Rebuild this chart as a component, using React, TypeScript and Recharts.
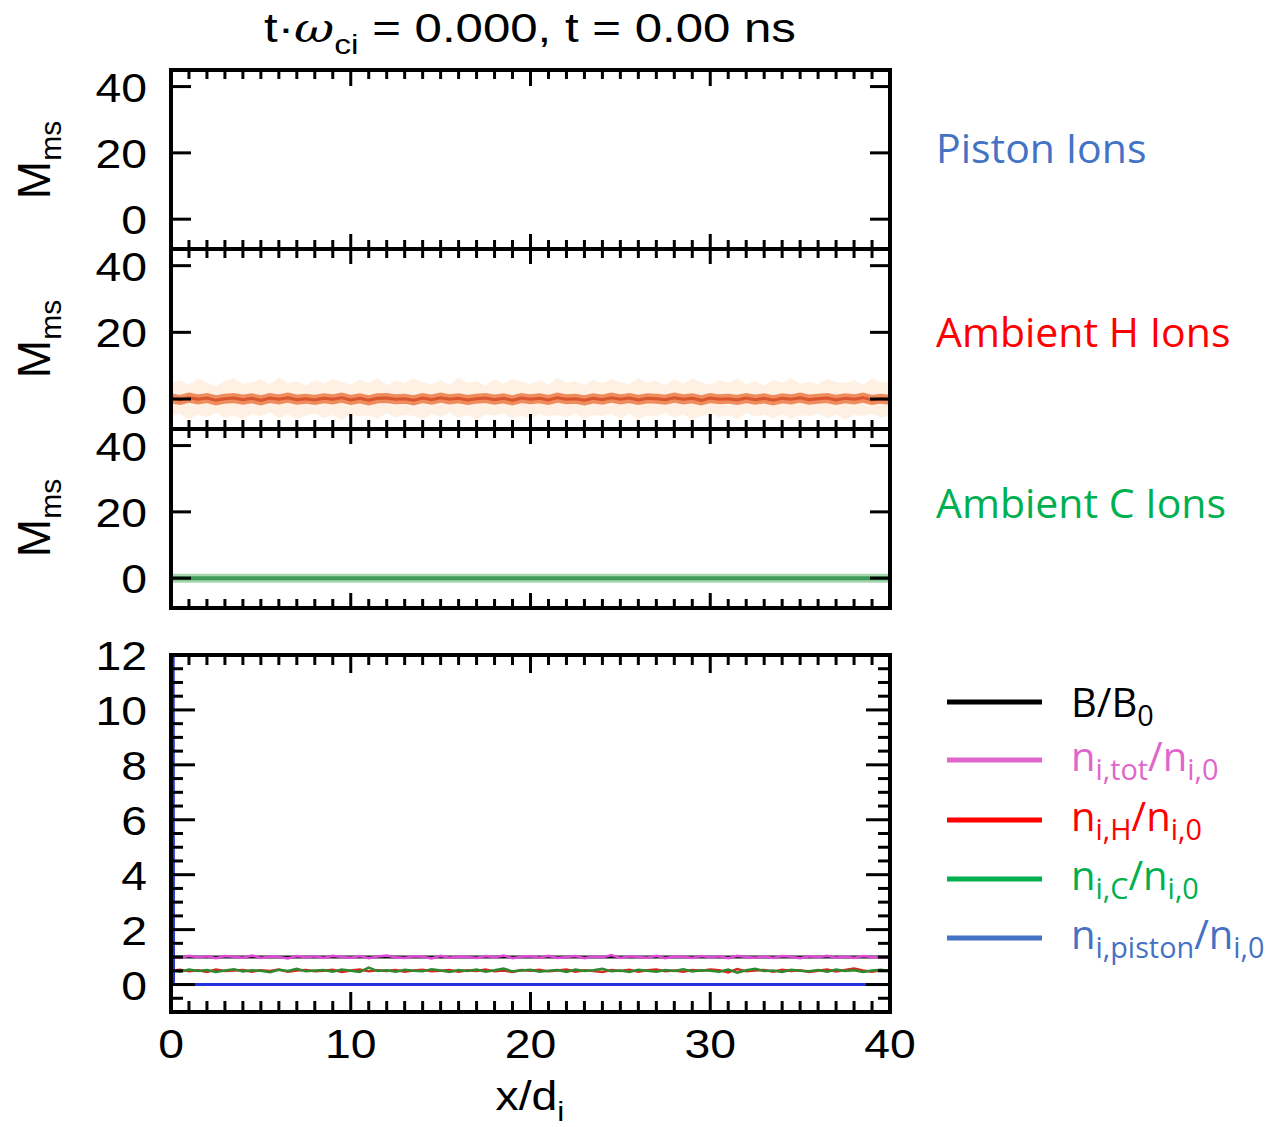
import React from 'react';
import { ComposedChart, Line, Area, XAxis, YAxis } from 'recharts';

// ---------- data ----------
const xTicks = [0,1,2,3,4,5,6,7,8,9,10,11,12,13,14,15,16,17,18,19,20,21,22,23,24,25,26,27,28,29,30,31,32,33,34,35,36,37,38,39,40];
const xMajorTicks = [0,10,20,30,40];
const machTicks = [0,20,40];
const densTicks = [-0.5,0,0.5,1,1.5,2,2.5,3,3.5,4,4.5,5,5.5,6,6.5,7,7.5,8,8.5,9,9.5,10,10.5,11,11.5,12];
const densMajor = [0,2,4,6,8,10,12];

const xGrid = [
  0,0.5,1,1.5,2,2.5,3,3.5,4,4.5,
  5,5.5,6,6.5,7,7.5,8,8.5,9,9.5,
  10,10.5,11,11.5,12,12.5,13,13.5,14,14.5,
  15,15.5,16,16.5,17,17.5,18,18.5,19,19.5,
  20,20.5,21,21.5,22,22.5,23,23.5,24,24.5,
  25,25.5,26,26.5,27,27.5,28,28.5,29,29.5,
  30,30.5,31,31.5,32,32.5,33,33.5,34,34.5,
  35,35.5,36,36.5,37,37.5,38,38.5,39,39.5,
  40,
];

// Ambient H ions Mach number (core + spread)
const hCore = [
  0.2,-0.3,0.4,-0.1,0.3,-0.4,0.1,0.3,-0.2,0.2,
  -0.4,0.3,-0.1,0.4,-0.2,0.1,-0.3,0.2,-0.1,0.4,
  -0.3,0.2,-0.4,0.2,0.3,-0.1,0.1,-0.4,0.3,-0.2,
  0.4,-0.1,0.2,-0.3,0.1,0.3,-0.2,0.2,-0.4,0.3,
  -0.1,0.2,-0.3,0.4,-0.1,0.1,-0.4,0.2,-0.2,0.4,
  -0.1,0.3,-0.3,0.2,0.1,-0.2,0.4,-0.1,0.2,-0.4,
  0.3,-0.1,0.1,-0.3,0.3,-0.2,0.2,-0.4,0.2,-0.1,
  0.4,-0.2,0.1,0.3,-0.3,0.2,-0.1,0.4,-0.3,0.1,
  -0.2,
];
const hHigh = [
  4.8,5.6,4.2,6.1,4.9,3.8,5.4,6.3,4.5,5.0,
  5.9,4.4,6.6,4.7,5.3,3.9,5.7,4.6,6.0,5.1,
  4.3,5.8,4.9,6.4,4.1,5.5,4.8,6.2,5.0,4.4,
  5.6,4.2,6.5,4.9,5.3,4.0,5.9,4.6,6.1,5.2,
  4.5,5.7,4.3,6.3,4.8,5.4,4.1,5.8,4.7,6.0,
  5.1,4.4,6.4,4.9,5.5,4.2,5.9,4.6,6.2,5.0,
  4.3,5.6,4.8,6.1,4.5,5.3,4.0,5.8,4.9,6.3,
  4.6,5.2,4.4,6.0,5.1,4.7,5.7,4.2,6.2,4.9,
  5.3,
];
const hLow = [
  -5.1,-4.4,-6.0,-4.7,-5.5,-4.1,-5.8,-4.9,-6.3,-4.5,
  -5.2,-4.0,-5.9,-4.6,-6.1,-5.0,-4.3,-5.7,-4.8,-6.4,
  -4.4,-5.3,-4.9,-6.0,-4.2,-5.6,-4.7,-5.1,-6.2,-4.5,
  -5.4,-4.1,-5.8,-4.8,-6.3,-4.6,-5.0,-4.3,-5.9,-4.9,
  -6.1,-4.4,-5.3,-4.7,-5.7,-4.2,-6.0,-4.8,-5.2,-4.5,
  -5.9,-4.3,-6.2,-4.9,-5.4,-4.1,-5.7,-4.6,-6.3,-5.0,
  -4.4,-5.5,-4.8,-6.1,-4.2,-5.3,-4.7,-5.9,-4.5,-6.0,
  -4.9,-5.2,-4.3,-5.8,-4.6,-6.2,-4.8,-5.1,-4.4,-5.6,
  -5.0,
];

// Ambient C ions Mach number
const cX = [0,10,20,30,40];
const cMach = [0,0,0,0,0];

// Densities / field
const bX = [0,40];
const bField = [1,1];
const nTot = [
  1.02,0.97,1.05,0.99,1.03,0.96,1.04,1.01,0.98,1.06,
  0.97,1.02,1.00,0.95,1.04,0.99,1.03,0.97,1.05,1.00,
  0.98,1.04,0.96,1.02,1.06,0.99,0.97,1.03,1.01,0.95,
  1.05,0.98,1.02,1.00,0.97,1.04,0.99,1.06,0.96,1.01,
  1.03,0.98,1.05,0.97,1.00,1.04,0.96,1.02,0.99,1.07,
  0.97,1.03,1.00,0.98,1.05,0.96,1.02,1.01,0.97,1.04,
  0.99,1.03,0.96,1.05,1.00,0.98,1.02,0.97,1.04,1.01,
  0.96,1.03,0.99,1.05,0.98,1.02,0.97,1.04,1.00,0.98,
  1.02,
];
const nH = [
  0.50,0.54,0.48,0.52,0.46,0.55,0.49,0.51,0.53,0.47,
  0.52,0.49,0.55,0.47,0.51,0.53,0.48,0.50,0.54,0.46,
  0.51,0.55,0.48,0.52,0.49,0.53,0.47,0.51,0.54,0.48,
  0.50,0.53,0.47,0.52,0.49,0.55,0.48,0.51,0.46,0.53,
  0.50,0.54,0.48,0.51,0.55,0.47,0.52,0.49,0.46,0.53,
  0.49,0.54,0.47,0.52,0.55,0.48,0.51,0.47,0.53,0.50,
  0.55,0.52,0.44,0.56,0.48,0.51,0.53,0.47,0.54,0.49,
  0.52,0.46,0.50,0.55,0.48,0.53,0.58,0.51,0.47,0.52,
  0.50,
];
const nC = [
  0.52,0.47,0.55,0.49,0.53,0.46,0.51,0.56,0.48,0.52,
  0.50,0.45,0.54,0.49,0.57,0.48,0.51,0.53,0.47,0.55,
  0.50,0.46,0.62,0.49,0.52,0.47,0.54,0.50,0.48,0.56,
  0.51,0.46,0.53,0.49,0.55,0.47,0.52,0.58,0.48,0.51,
  0.54,0.47,0.50,0.53,0.46,0.55,0.49,0.52,0.57,0.48,
  0.51,0.46,0.54,0.50,0.47,0.53,0.49,0.56,0.48,0.52,
  0.50,0.47,0.55,0.43,0.52,0.57,0.49,0.51,0.46,0.54,
  0.50,0.48,0.53,0.47,0.55,0.49,0.52,0.46,0.51,0.54,
  0.49,
];
const pistonX = [0.12,0.14,40];
const pistonN = [13,0,0];

// ---------- tables ----------
const hRows = xGrid.map((x, i) => ({ x, core: hCore[i], band: [hLow[i], hHigh[i]] }));
const cRows = cX.map((x, i) => ({ x, v: cMach[i] }));
const bRows = bX.map((x, i) => ({ x, v: bField[i] }));
const nRows = xGrid.map((x, i) => ({ x, tot: nTot[i], h: nH[i], c: nC[i] }));
const pRows = pistonX.map((x, i) => ({ x, v: pistonN[i] }));

// ---------- layout ----------
const FONT = '"Liberation Sans", Arial, Helvetica, sans-serif';
const LABEL_FONT = '"Open Sans", "Noto Sans", sans-serif';
const CHART_W = 1000;
const Y_AXIS_W = 60;
const PLOT_LEFT = 171;
const PLOT_RIGHT = 890;
const TICK_FS = 41;
const STRETCH = 1.13;

const xTickRenderer = (side: 'top' | 'bottom', majorLen: number, minorLen: number, withLabels: boolean) =>
  (props: any) => {
    const { x, y, payload } = props;
    const v = Number(payload.value);
    const major = xMajorTicks.indexOf(v) >= 0;
    const len = major ? majorLen : minorLen;
    const d = side === 'top' ? 1 : -1;
    return (
      <g>
        <line x1={x} x2={x} y1={y} y2={y + d * len} stroke="#000" strokeWidth={3} />
        {withLabels && major ? (
          <text transform={`translate(${x},${y + 46}) scale(${STRETCH},1)`} textAnchor="middle"
            fontFamily={FONT} fontSize={TICK_FS} fill="#000">{v}</text>
        ) : null}
      </g>
    );
  };

const yTickRenderer = (side: 'left' | 'right', majors: number[], majorLen: number, minorLen: number) =>
  (props: any) => {
    const { x, y, payload } = props;
    const v = Number(payload.value);
    const major = majors.indexOf(v) >= 0;
    const len = major ? majorLen : minorLen;
    const d = side === 'left' ? 1 : -1;
    return (
      <g>
        <line x1={x} x2={x + d * len} y1={y} y2={y} stroke="#000" strokeWidth={3} />
        {side === 'left' && major ? (
          <text transform={`translate(${x - 24},${y + 15}) scale(${STRETCH},1)`} textAnchor="end"
            fontFamily={FONT} fontSize={TICK_FS} fill="#000">{v}</text>
        ) : null}
      </g>
    );
  };

type PanelProps = {
  plotTop: number;
  plotBottom: number;
  yDomain: [number, number];
  yTicks: number[];
  yMajor: number[];
  yMajorLen: number;
  yMinorLen: number;
  topLens: [number, number];
  bottomLens: [number, number];
  xLabels: boolean;
  children: React.ReactNode;
};

function Panel(p: PanelProps) {
  const padTop = 30;
  const padBottom = p.xLabels ? 70 : 30;
  const h = p.plotBottom - p.plotTop + padTop + padBottom;
  const axisLine = { stroke: '#000', strokeWidth: 4, strokeLinecap: 'square' as const };
  return (
    <div style={{ position: 'absolute', left: 0, top: p.plotTop - padTop }}>
      <ComposedChart
        width={CHART_W}
        height={h}
        margin={{ top: 10, bottom: 10, left: PLOT_LEFT - Y_AXIS_W, right: CHART_W - PLOT_RIGHT - Y_AXIS_W }}
      >
        {p.children}
        <XAxis xAxisId="b" dataKey="x" type="number" domain={[0, 40]} ticks={xTicks} interval={0}
          orientation="bottom" height={padBottom - 10} tickSize={0} tickMargin={0} tickLine={false}
          axisLine={axisLine} allowDataOverflow
          tick={xTickRenderer('bottom', p.bottomLens[0], p.bottomLens[1], p.xLabels)} />
        <XAxis xAxisId="t" dataKey="x" type="number" domain={[0, 40]} ticks={xTicks} interval={0}
          orientation="top" height={20} tickSize={0} tickMargin={0} tickLine={false}
          axisLine={axisLine} allowDataOverflow
          tick={xTickRenderer('top', p.topLens[0], p.topLens[1], false)} />
        <YAxis yAxisId="l" type="number" domain={p.yDomain} ticks={p.yTicks} interval={0}
          orientation="left" width={Y_AXIS_W} tickSize={0} tickMargin={0} tickLine={false}
          axisLine={axisLine} allowDataOverflow
          tick={yTickRenderer('left', p.yMajor, p.yMajorLen, p.yMinorLen)} />
        <YAxis yAxisId="r" type="number" domain={p.yDomain} ticks={p.yTicks} interval={0}
          orientation="right" width={Y_AXIS_W} tickSize={0} tickMargin={0} tickLine={false}
          axisLine={axisLine} allowDataOverflow
          tick={yTickRenderer('right', p.yMajor, p.yMajorLen, p.yMinorLen)} />
      </ComposedChart>
    </div>
  );
}

const machDomain: [number, number] = [-9, 45];

function Sub({ children }: { children: React.ReactNode }) {
  return <tspan dy={9} fontSize="0.72em">{children}</tspan>;
}

const LEG_FS = 40;

export default function App() {
  return (
    <div style={{ position: 'absolute', left: 0, top: 0, width: 1271, height: 1127, background: '#fff' }}>
      {/* Panel 1: Piston ions */}
      <Panel plotTop={70} plotBottom={249} yDomain={machDomain} yTicks={machTicks} yMajor={machTicks}
        yMajorLen={20} yMinorLen={10} topLens={[16, 9]} bottomLens={[15, 9]} xLabels={false}>
        <Line xAxisId="b" yAxisId="l" data={[]} dataKey="v" stroke="#4472C4" dot={false} isAnimationActive={false} />
      </Panel>

      {/* Panel 2: Ambient H ions */}
      <Panel plotTop={249} plotBottom={429} yDomain={machDomain} yTicks={machTicks} yMajor={machTicks}
        yMajorLen={20} yMinorLen={10} topLens={[15, 9]} bottomLens={[15, 9]} xLabels={false}>
        <Area xAxisId="b" yAxisId="l" data={hRows} dataKey="band" type="linear" stroke="none"
          fill="#fcd2a6" fillOpacity={0.3} isAnimationActive={false} />
        <Line xAxisId="b" yAxisId="l" data={hRows} dataKey="core" type="linear" stroke="#ec7a45"
          strokeWidth={10} strokeOpacity={0.85} dot={false} isAnimationActive={false} />
        <Line xAxisId="b" yAxisId="l" data={hRows} dataKey="core" type="linear" stroke="#d9552d"
          strokeWidth={3} dot={false} isAnimationActive={false} />
      </Panel>

      {/* Panel 3: Ambient C ions */}
      <Panel plotTop={429} plotBottom={608} yDomain={machDomain} yTicks={machTicks} yMajor={machTicks}
        yMajorLen={20} yMinorLen={10} topLens={[15, 9]} bottomLens={[15, 9]} xLabels={false}>
        <Line xAxisId="b" yAxisId="l" data={cRows} dataKey="v" type="linear" stroke="#a6d6ae"
          strokeWidth={9} dot={false} isAnimationActive={false} />
        <Line xAxisId="b" yAxisId="l" data={cRows} dataKey="v" type="linear" stroke="#3f9b57"
          strokeWidth={4} dot={false} isAnimationActive={false} />
      </Panel>

      {/* Panel 4: densities */}
      <Panel plotTop={655} plotBottom={1012} yDomain={[-1, 12]} yTicks={densTicks} yMajor={densMajor}
        yMajorLen={24} yMinorLen={12} topLens={[18, 10]} bottomLens={[20, 11]} xLabels={true}>
        <Line xAxisId="b" yAxisId="l" data={pRows} dataKey="v" type="linear" stroke="#2233dd"
          strokeWidth={3} dot={false} isAnimationActive={false} />
        <Line xAxisId="b" yAxisId="l" data={nRows} dataKey="h" type="linear" stroke="#d42a20"
          strokeWidth={2.5} dot={false} isAnimationActive={false} />
        <Line xAxisId="b" yAxisId="l" data={nRows} dataKey="c" type="linear" stroke="#2f8a2f"
          strokeWidth={2.5} dot={false} isAnimationActive={false} />
        <Line xAxisId="b" yAxisId="l" data={bRows} dataKey="v" type="linear" stroke="#111111"
          strokeWidth={3} dot={false} isAnimationActive={false} />
        <Line xAxisId="b" yAxisId="l" data={nRows} dataKey="tot" type="linear" stroke="#e04ad8"
          strokeWidth={2.5} dot={false} isAnimationActive={false} />
      </Panel>

      {/* Text overlay */}
      <svg width={1271} height={1127} style={{ position: 'absolute', left: 0, top: 0, pointerEvents: 'none' }}>
        <text transform="translate(530,42) scale(1.2,1)" textAnchor="middle" fontFamily={FONT} fontSize={41} fill="#000">
          t·<tspan fontStyle="italic" fontFamily='"DejaVu Serif", serif'>ω</tspan>
          <tspan dy={12} fontSize={28}>ci</tspan>
          <tspan dy={-12}> = 0.000, t = 0.00 ns</tspan>
        </text>

        {[160, 339, 518].map((cy) => (
          <text key={cy} transform={`translate(50,${cy}) rotate(-90)`} textAnchor="middle"
            fontFamily={FONT} fontSize={46} fill="#000">
            M<tspan dy={11} fontSize={30}>ms</tspan>
          </text>
        ))}

        <text transform={`translate(530,1110) scale(${STRETCH},1)`} textAnchor="middle" fontFamily={FONT} fontSize={41} fill="#000">
          x/d<tspan dy={11} fontSize={28}>i</tspan>
        </text>

        <text x={936} y={163} fontFamily={LABEL_FONT} fontSize={41} fill="#4472C4">Piston Ions</text>
        <text x={936} y={347} fontFamily={LABEL_FONT} fontSize={41} fill="#FF0000">Ambient H Ions</text>
        <text x={936} y={518} fontFamily={LABEL_FONT} fontSize={41} fill="#00B050">Ambient C Ions</text>

        {/* legend */}
        <line x1={947} x2={1042} y1={702} y2={702} stroke="#000000" strokeWidth={5} />
        <text x={1071} y={717} fontFamily={LABEL_FONT} fontSize={LEG_FS} fill="#000000">
          B/B<Sub>0</Sub>
        </text>

        <line x1={947} x2={1042} y1={760} y2={760} stroke="#E066CC" strokeWidth={5} />
        <text x={1071} y={771} fontFamily={LABEL_FONT} fontSize={LEG_FS} fill="#E066CC">
          n<Sub>i,tot</Sub><tspan dy={-9}>/n</tspan><Sub>i,0</Sub>
        </text>

        <line x1={947} x2={1042} y1={820} y2={820} stroke="#FF0000" strokeWidth={5} />
        <text x={1071} y={831} fontFamily={LABEL_FONT} fontSize={LEG_FS} fill="#FF0000">
          n<Sub>i,H</Sub><tspan dy={-9}>/n</tspan><Sub>i,0</Sub>
        </text>

        <line x1={947} x2={1042} y1={879} y2={879} stroke="#00B050" strokeWidth={5} />
        <text x={1071} y={890} fontFamily={LABEL_FONT} fontSize={LEG_FS} fill="#00B050">
          n<Sub>i,C</Sub><tspan dy={-9}>/n</tspan><Sub>i,0</Sub>
        </text>

        <line x1={947} x2={1042} y1={938} y2={938} stroke="#4472C4" strokeWidth={5} />
        <text x={1071} y={949} fontFamily={LABEL_FONT} fontSize={LEG_FS} fill="#4472C4">
          n<Sub>i,piston</Sub><tspan dy={-9}>/n</tspan><Sub>i,0</Sub>
        </text>
      </svg>
    </div>
  );
}
